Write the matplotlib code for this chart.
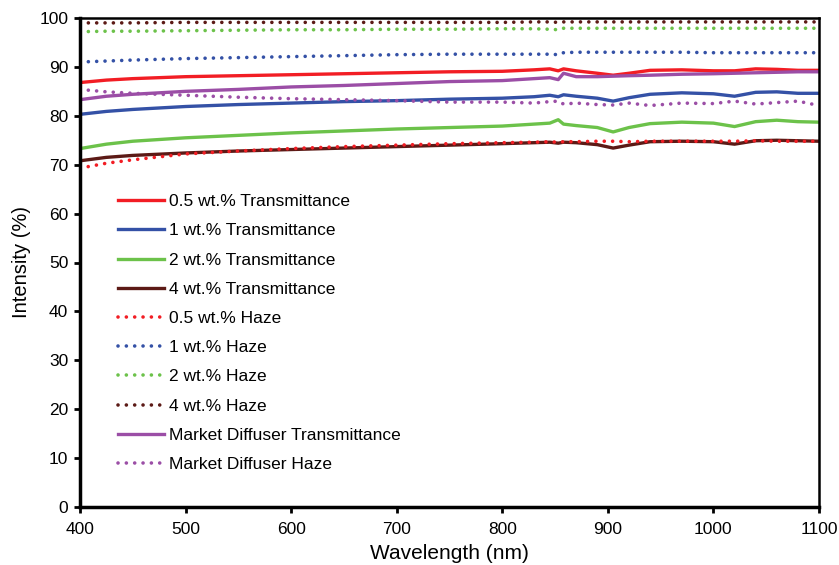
import numpy as np
import matplotlib
matplotlib.use("Agg")
import matplotlib.pyplot as plt

plt.rcParams['font.family'] = ['Liberation Sans', 'DejaVu Sans']

# wavelength grid (nm)
wavelength = [400, 425, 450, 500, 550, 600, 650, 700, 750, 800, 830, 845, 853, 858,
              870, 890, 905, 920, 940, 970, 1000, 1020, 1040, 1060, 1080, 1100]

t_05 = [86.8, 87.3, 87.6, 88.0, 88.2, 88.4, 88.6, 88.8, 89.0, 89.1, 89.4, 89.6, 89.2, 89.6,
        89.2, 88.7, 88.3, 88.7, 89.3, 89.4, 89.2, 89.2, 89.6, 89.5, 89.3, 89.3]
t_1 = [80.3, 80.9, 81.3, 81.9, 82.3, 82.6, 82.9, 83.1, 83.4, 83.6, 83.9, 84.2, 83.9, 84.3,
       84.0, 83.6, 83.0, 83.7, 84.4, 84.7, 84.5, 84.0, 84.8, 84.9, 84.6, 84.6]
t_2 = [73.3, 74.2, 74.8, 75.5, 76.0, 76.5, 76.9, 77.3, 77.6, 77.9, 78.3, 78.5, 79.2, 78.3,
       78.0, 77.6, 76.7, 77.6, 78.4, 78.7, 78.5, 77.8, 78.8, 79.1, 78.8, 78.7]
t_4 = [70.8, 71.5, 71.9, 72.4, 72.8, 73.1, 73.4, 73.7, 74.0, 74.3, 74.5, 74.6, 74.4, 74.6,
       74.5, 74.1, 73.4, 74.0, 74.7, 74.8, 74.7, 74.2, 74.9, 75.0, 74.9, 74.8]
h_05 = [69.3, 70.3, 71.0, 72.2, 72.8, 73.3, 73.7, 74.0, 74.3, 74.5, 74.6, 74.7, 74.6, 74.7,
        74.7, 74.8, 74.8, 74.7, 74.8, 74.8, 74.8, 74.8, 74.9, 74.8, 74.8, 74.8]
h_1 = [91.0, 91.2, 91.4, 91.7, 91.9, 92.1, 92.3, 92.5, 92.6, 92.6, 92.6, 92.6, 92.5, 92.9,
       93.0, 93.0, 93.0, 93.0, 93.0, 93.0, 92.9, 92.9, 92.9, 92.9, 92.9, 92.9]
h_2 = [97.2, 97.3, 97.3, 97.4, 97.5, 97.6, 97.6, 97.7, 97.7, 97.8, 97.8, 97.7, 97.6, 97.9,
       97.9, 97.9, 97.9, 97.9, 97.9, 97.9, 97.9, 97.9, 97.9, 97.9, 97.9, 97.9]
h_4 = [99.0, 99.0, 99.0, 99.1, 99.1, 99.1, 99.1, 99.1, 99.1, 99.1, 99.2, 99.2, 99.1, 99.2,
       99.2, 99.2, 99.2, 99.2, 99.2, 99.2, 99.2, 99.2, 99.2, 99.2, 99.2, 99.2]
t_market = [83.3, 84.0, 84.4, 85.0, 85.4, 85.9, 86.2, 86.6, 87.0, 87.2, 87.6, 87.8, 87.4, 88.7,
            88.0, 88.0, 88.1, 88.2, 88.3, 88.5, 88.6, 88.7, 88.8, 88.9, 89.0, 89.0]
h_market = [85.4, 84.9, 84.6, 84.2, 83.8, 83.5, 83.3, 83.1, 82.8, 82.8, 82.6, 82.9, 83.0, 82.4,
            82.6, 82.3, 82.2, 82.6, 82.1, 82.6, 82.5, 83.0, 82.4, 82.7, 83.0, 82.1]

RED = '#f21d24'
BLUE = '#3451a6'
GREEN = '#6cc24a'
BROWN = '#5c1a16'
PURPLE = '#9b4ea6'

series = [
    ("0.5 wt.% Transmittance", t_05, RED, '-'),
    ("1 wt.% Transmittance", t_1, BLUE, '-'),
    ("2 wt.% Transmittance", t_2, GREEN, '-'),
    ("4 wt.% Transmittance", t_4, BROWN, '-'),
    ("0.5 wt.% Haze", h_05, RED, ':'),
    ("1 wt.% Haze", h_1, BLUE, ':'),
    ("2 wt.% Haze", h_2, GREEN, ':'),
    ("4 wt.% Haze", h_4, BROWN, ':'),
    ("Market Diffuser Transmittance", t_market, PURPLE, '-'),
    ("Market Diffuser Haze", h_market, PURPLE, ':'),
]

fig = plt.figure(figsize=(8.39, 5.65), dpi=100)
ax = fig.add_axes([80 / 839, 1 - 507 / 565, 739 / 839, 489 / 565])

for label, vals, col, ls in series:
    if ls == ':':
        ax.plot(wavelength, vals, color=col, lw=2.6, linestyle=(0, (0.01, 2.3)),
                dash_capstyle='round', solid_capstyle='round', label=label)
    else:
        ax.plot(wavelength, vals, color=col, lw=2.4, label=label)

ax.set_xlim(400, 1100)
ax.set_ylim(0, 100)
ax.set_xticks(range(400, 1101, 100))
ax.set_yticks(range(0, 101, 10))
ax.tick_params(axis='both', which='major', labelsize=12.5, direction='out',
               length=4.5, width=2, top=False, right=False, pad=4)
ax.tick_params(axis='x', pad=6)
for side in ['left', 'bottom']:
    ax.spines[side].set_linewidth(2.5)
for side in ['top', 'right']:
    ax.spines[side].set_linewidth(1.8)

ax.set_xlabel("Wavelength (nm)", fontsize=15, labelpad=5)
ax.set_ylabel("Intensity (%)", fontsize=14.5, labelpad=6)

ax.legend(loc='upper left', bbox_to_anchor=(0.051, 0.64), frameon=False,
          fontsize=12.5, handlelength=2.65, handletextpad=0.29, labelspacing=0.81,
          borderpad=0, borderaxespad=0)

fig.savefig("out.png", dpi=100)
